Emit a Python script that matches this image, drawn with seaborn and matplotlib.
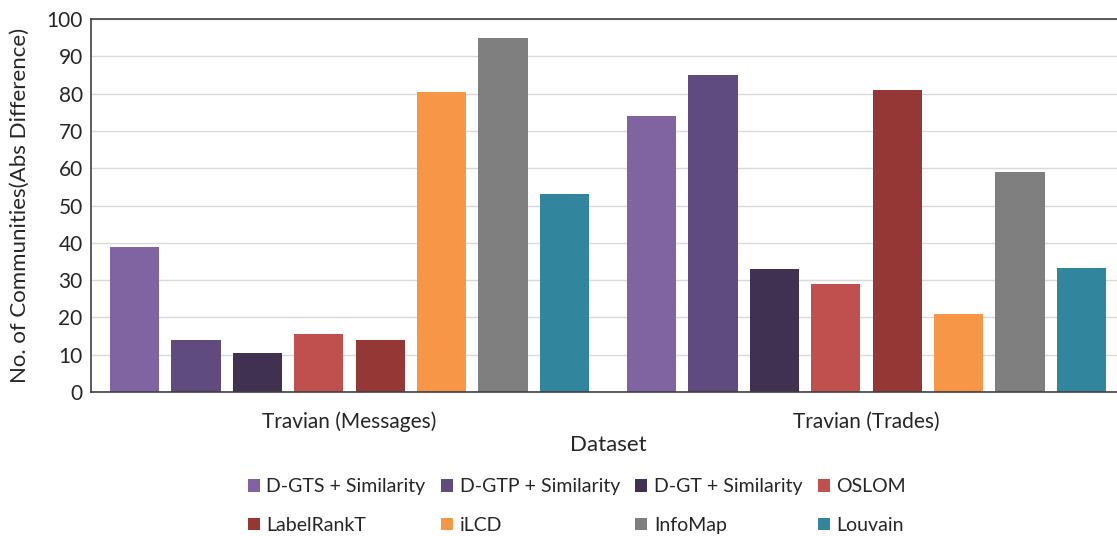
import matplotlib
matplotlib.use("Agg")
import matplotlib.pyplot as plt
import seaborn as sns
import pandas as pd

datasets = ["Travian (Messages)", "Travian (Trades)"]
methods = ["D-GTS + Similarity", "D-GTP + Similarity", "D-GT + Similarity", "OSLOM",
           "LabelRankT", "iLCD", "InfoMap", "Louvain"]
messages_vals = [39, 14, 10.5, 15.5, 14, 80.5, 95, 53]
trades_vals = [74, 85, 33, 29, 81, 21, 59, 33.2]
colors = ["#8064A2", "#5F4B7E", "#403151", "#C0504D", "#953735", "#F79646", "#7F7F7F", "#31859C"]
yticks = list(range(0, 101, 10))

rows = []
for ds, vals in zip(datasets, [messages_vals, trades_vals]):
    for m, v in zip(methods, vals):
        rows.append({"Dataset": ds, "Method": m, "Value": v})
df = pd.DataFrame(rows)

sns.set_theme(style="white")
plt.rcParams['font.family'] = ['Lato', 'DejaVu Sans']

fig = plt.figure(figsize=(11.17, 5.36), dpi=100)
ax = fig.add_axes([91/1117, 1-392/536, (1125-91)/1117, (392-19)/536])

sns.barplot(data=df, x="Dataset", y="Value", hue="Method", hue_order=methods,
            palette=colors, width=0.95, gap=0.2, saturation=1, ax=ax, edgecolor="none")

ax.set_ylim(0, 100)
ax.set_yticks(yticks)
ax.yaxis.grid(True, color="#D9D9D9", linewidth=1)
ax.set_axisbelow(True)
for s in ax.spines.values():
    s.set_color("#404040")
    s.set_linewidth(1.2)
ax.tick_params(axis="both", length=0, labelsize=15, colors="#262626")
ax.tick_params(axis="x", pad=14)
ax.tick_params(axis="y", pad=6)
ax.set_xlabel("Dataset", fontsize=16, color="#262626", labelpad=2)
ax.set_ylabel("No. of Communities(Abs Difference)", fontsize=16, color="#262626", labelpad=12)

handles, labels = ax.get_legend_handles_labels()
ax.get_legend().remove()
order = [0, 4, 1, 5, 2, 6, 3, 7]
fig.legend([handles[i] for i in order], [labels[i] for i in order], ncol=4, loc="center",
           bbox_to_anchor=(577/1117, 1-506/536),
           frameon=False, fontsize=14, handlelength=0.6, handleheight=0.6,
           handletextpad=0.35, columnspacing=0.8, labelspacing=1.1, labelcolor="#262626")

fig.savefig("out.png", dpi=100)
